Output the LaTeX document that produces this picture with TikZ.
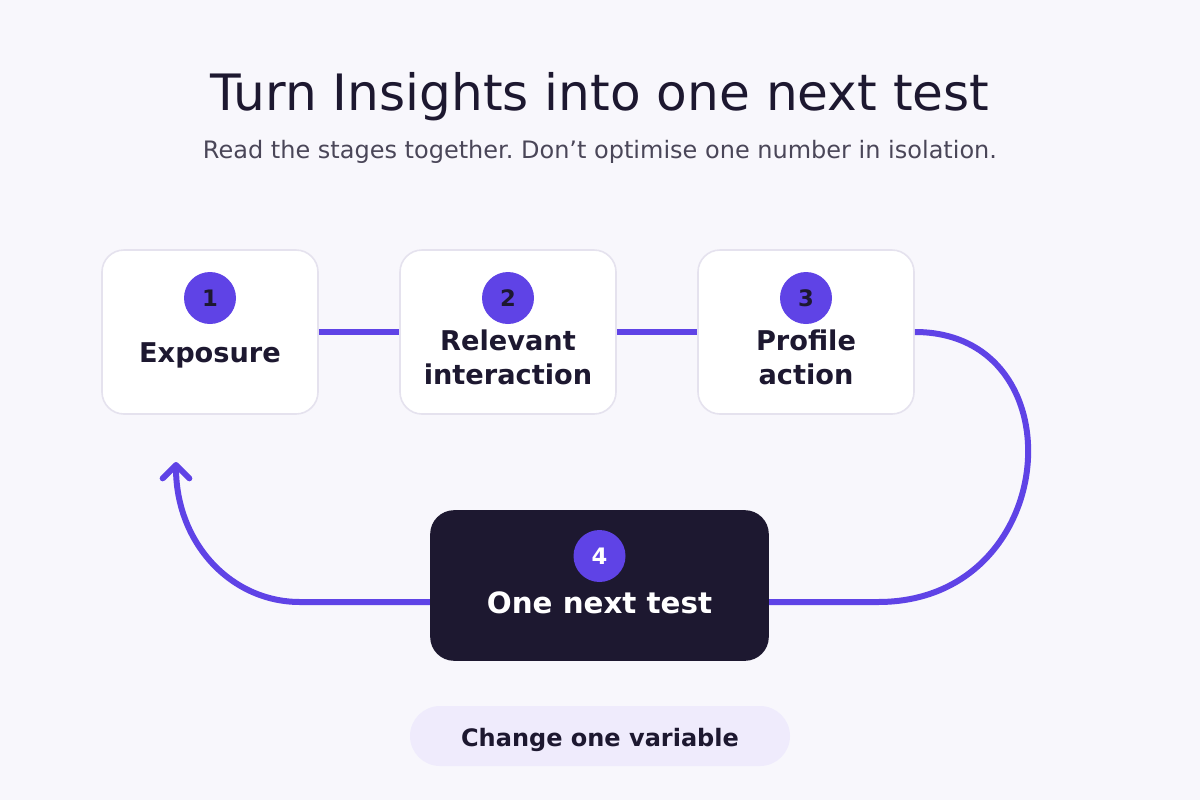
\documentclass[tikz,border=0pt]{standalone}
\usepackage{fontspec}
\setmainfont{DejaVu Sans}
\usetikzlibrary{arrows.meta,calc}
\frenchspacing
\definecolor{bgc}{HTML}{F8F7FC}
\definecolor{ink}{HTML}{1D1830}
\definecolor{subc}{HTML}{4A4658}
\definecolor{purp}{HTML}{5F43E6}
\definecolor{boxline}{HTML}{E5E2EE}
\definecolor{pillc}{HTML}{EFEBFC}
\tikzset{
  stagebox/.style={draw=boxline, line width=1.2pt, fill=white, rounded corners=16.5pt,
    minimum width=162pt, minimum height=123pt, inner sep=0pt},
  darkbox/.style={fill=ink, rounded corners=18pt, minimum width=254pt, minimum height=113pt, inner sep=0pt},
  numdot/.style={circle, fill=purp, minimum size=39pt, inner sep=0pt, font=\bfseries\fontsize{17}{17}\selectfont},
  lab/.style={font=\bfseries\fontsize{20.4}{20.4}\selectfont, text=ink, anchor=base, inner sep=0pt},
  conn/.style={draw=purp, line width=4.5pt},
}
\begin{document}
\begin{tikzpicture}[x=0.75pt,y=-0.75pt]
\fill[bgc] (0,0) rectangle (1200,800);
\useasboundingbox (0,0) rectangle (1200,800);
% titles
\node[anchor=base, inner sep=0pt, text=ink, font=\fontsize{37.6}{37.6}\selectfont] (title) at (600,110) {Turn Insights into one next test};
\node[anchor=base, inner sep=0pt, text=subc, font=\fontsize{18}{18}\selectfont] (sub) at (600,158) {Read the stages together. Don’t optimise one number in isolation.};
% boxes
\node[stagebox] (b1) at (210,332) {};
\node[stagebox] (b2) at (508,332) {};
\node[stagebox] (b3) at (806,332) {};
\node[darkbox] (b4) at (599.5,585.5) {};
% connectors
\draw[conn] (b1.east) -- (b2.west);
\draw[conn] (b2.east) -- (b3.west);
\draw[conn] (b3.east) .. controls (1080,332) and (1062,602) .. (878,602) -- ([yshift=-12.4pt]b4.east);
\coordinate (tip) at (176,462);
\draw[conn, -{Straight Barb[round, length=10pt, width=20pt]}] ([yshift=-12.4pt]b4.west) -- (300,602) .. controls (231,602) and (176,543) .. (tip);
% numbers
\node[numdot, text=ink] (n1) at (210,298) {1};
\node[numdot, text=ink] (n2) at (508,298) {2};
\node[numdot, text=ink] (n3) at (806,298) {3};
\node[numdot, text=white] (n4) at (599.5,556) {4};
% labels
\node[lab] (l1) at (210,362) {Exposure};
\node[lab] (l2a) at (508,350) {Relevant};
\node[lab] (l2b) at (508,384) {interaction};
\node[lab] (l3a) at (806,350) {Profile};
\node[lab] (l3b) at (806,384) {action};
\node[lab, text=white, font=\bfseries\fontsize{22}{22}\selectfont] (l4) at (599.5,613) {One next test};
% pill
\node[fill=pillc, rounded corners=22.5pt, minimum width=285pt, minimum height=45pt, inner sep=0pt] (pill) at (600,736) {};
\node[lab, font=\bfseries\fontsize{18}{18}\selectfont] (pt) at (600,746) {Change one variable};
\end{tikzpicture}
\end{document}
